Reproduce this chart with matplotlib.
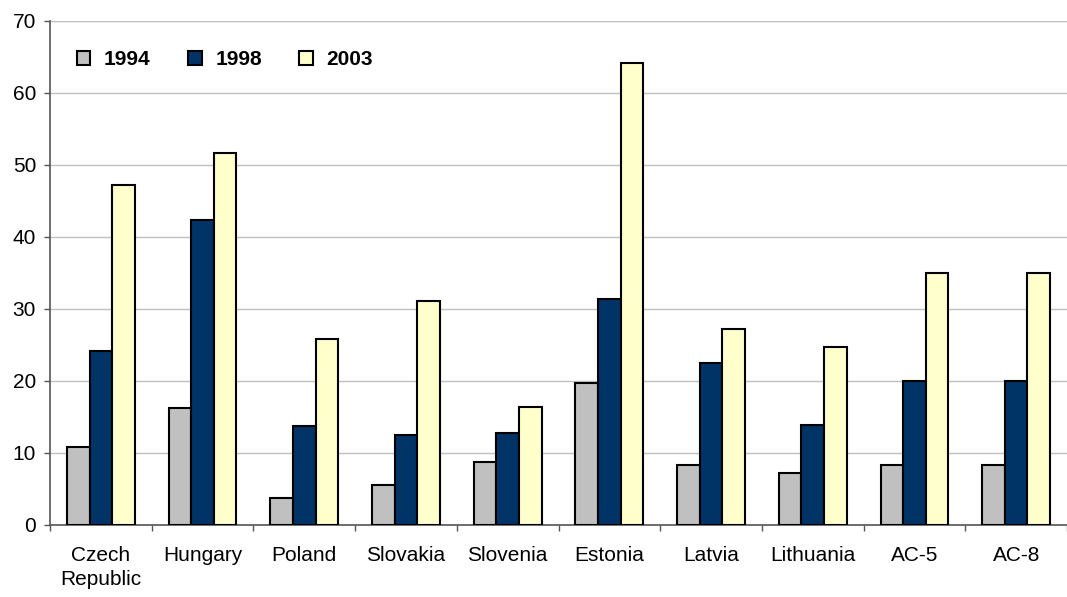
import matplotlib.pyplot as plt
import numpy as np

plt.rcParams["font.family"] = ["Liberation Sans", "DejaVu Sans"]

countries = ["Czech\nRepublic", "Hungary", "Poland", "Slovakia", "Slovenia",
             "Estonia", "Latvia", "Lithuania", "AC-5", "AC-8"]
years = ["1994", "1998", "2003"]
v1994 = [10.8, 16.3, 3.8, 5.5, 8.8, 19.7, 8.3, 7.2, 8.4, 8.4]
v1998 = [24.2, 42.4, 13.7, 12.5, 12.8, 31.4, 22.5, 13.9, 20.0, 20.0]
v2003 = [47.2, 51.6, 25.8, 31.1, 16.4, 64.2, 27.2, 24.7, 35.0, 35.0]
colors = ["#c0c0c0", "#003366", "#ffffcc"]

fig = plt.figure(figsize=(10.67, 5.97), dpi=100)
ax = fig.add_axes([50 / 1067, 1 - 525 / 597, 1 - 50 / 1067, (525 - 21) / 597])

x = np.arange(len(countries))
width = 1 / 4.5
for i, (vals, col, lab) in enumerate(zip([v1994, v1998, v2003], colors, years)):
    ax.bar(x + (i - 1) * width, vals, width=width, color=col, edgecolor="black",
           linewidth=1.5, label=lab, zorder=3)

ax.set_xlim(-0.5, len(countries) - 0.5)
ax.set_ylim(0, 70)
ax.set_yticks(np.arange(0, 71, 10))
ax.yaxis.grid(True, color="#c0c0c0", linewidth=1, zorder=0)
ax.set_xticks(x)
ax.set_xticklabels(countries, linespacing=1.35)
ax.set_xticks(np.arange(-0.5, len(countries), 1), minor=True)
ax.tick_params(axis="x", which="major", length=0, pad=15, labelsize=15)
ax.tick_params(axis="x", which="minor", length=4, width=1, color="#555555", direction="out")
ax.tick_params(axis="y", length=4, width=1, color="#555555", labelsize=15, pad=6)

for side in ["top", "right"]:
    ax.spines[side].set_visible(False)
for side in ["left", "bottom"]:
    ax.spines[side].set_color("#555555")
    ax.spines[side].set_linewidth(1.2)
ax.axhline(70, color="#999999", linewidth=1.5, zorder=1)

leg = ax.legend(loc="upper left", bbox_to_anchor=(0.008, 0.979), ncol=3, frameon=False,
                prop={"weight": "bold", "size": 15}, handlelength=0.65, handleheight=0.65,
                handletextpad=0.65, columnspacing=1.8)

fig.savefig("out.png", dpi=100)
